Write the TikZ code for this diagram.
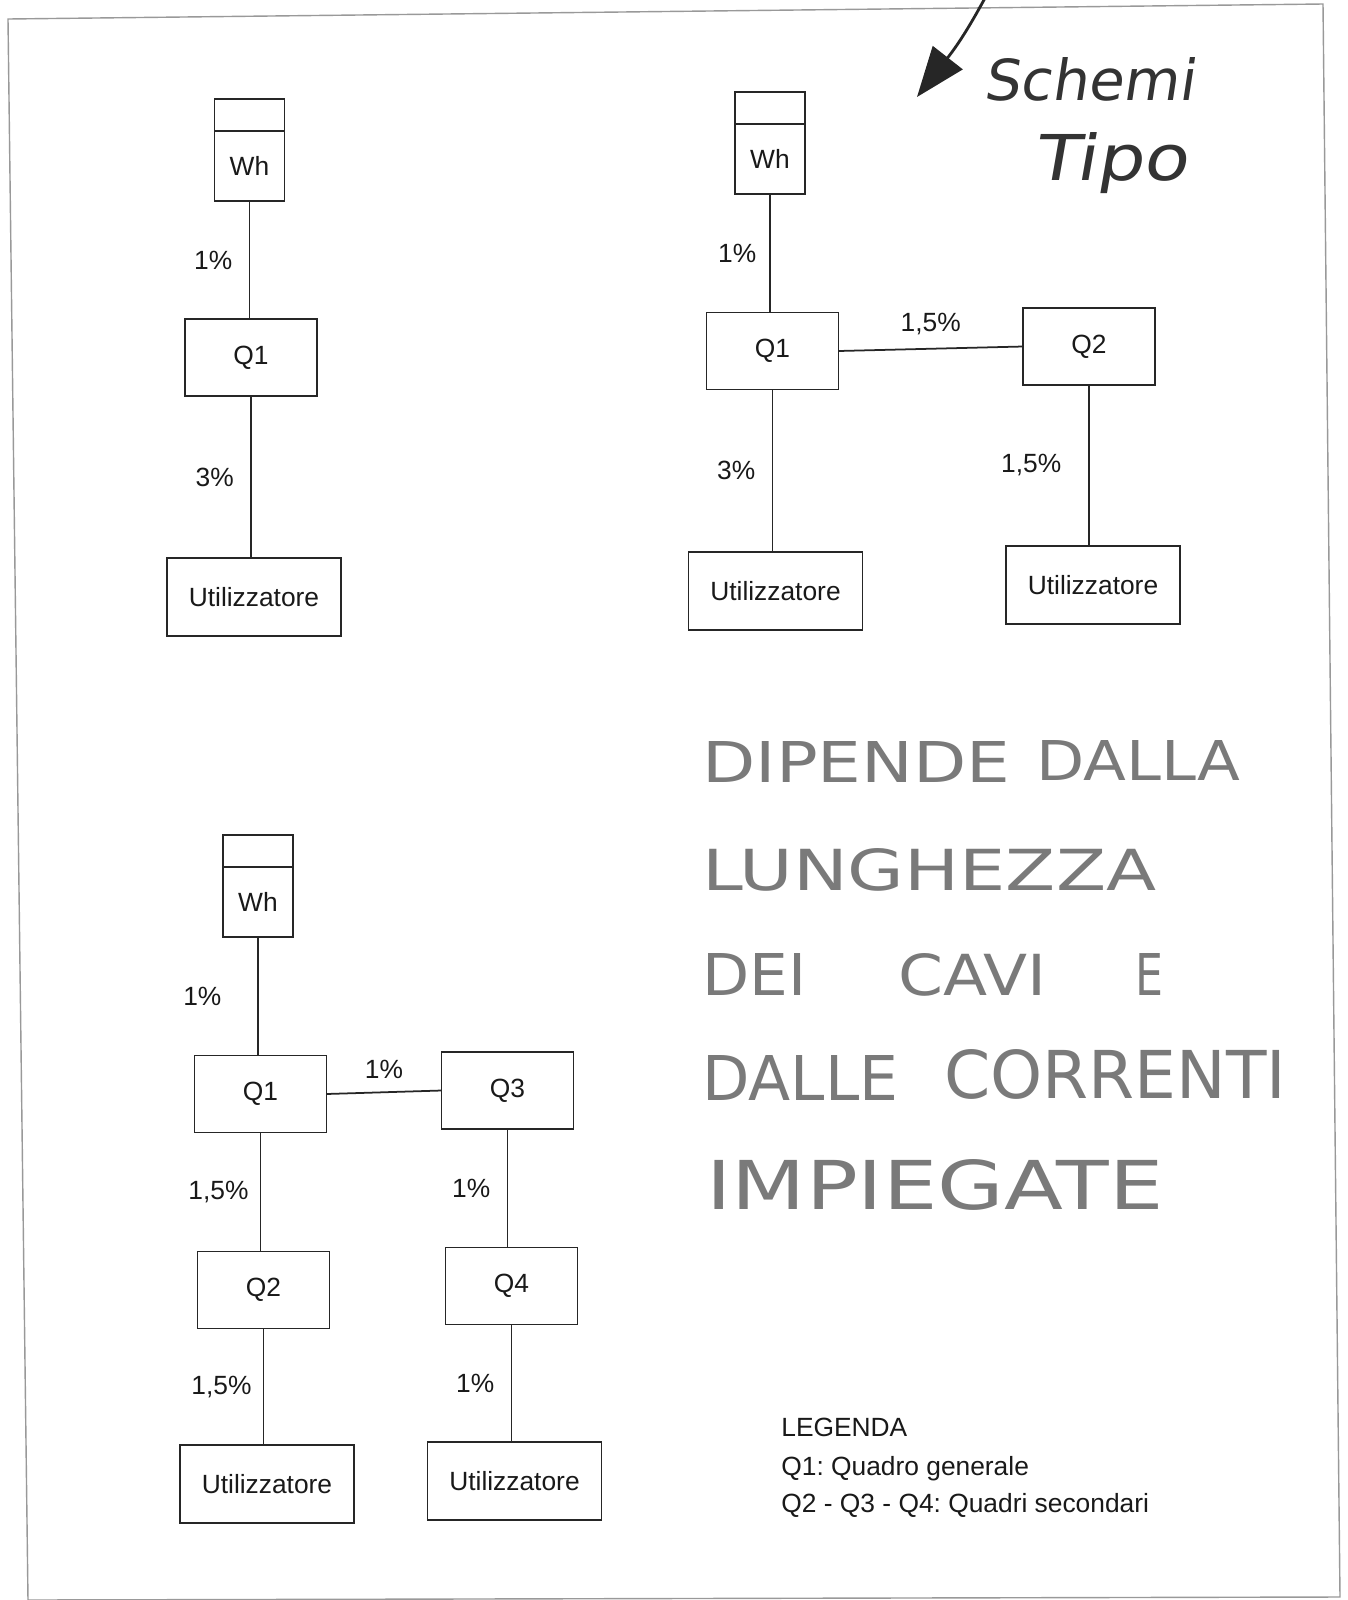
\documentclass[tikz,border=0pt]{standalone}
\usepackage{fontspec}
\usepackage{graphicx}
\setmainfont{Liberation Sans}
\newfontfamily\handfont{DejaVu Sans}
\newfontfamily\notefont{DejaVu Sans}[FakeSlant=0.15]
\usetikzlibrary{arrows.meta,positioning}
\newcommand{\hw}[3]{\resizebox{#1cm}{#2cm}{\handfont #3}}
\newcommand{\sw}[3]{\resizebox{#1cm}{#2cm}{\notefont #3}}
\frenchspacing

\begin{document}
\begin{tikzpicture}[x=0.02cm,y=-0.02cm,
  txt/.style={font=\fontsize{15}{18}\selectfont, text=black!90},
  qbox/.style={txt, draw=black!85, line width=1pt, outer sep=0pt, inner sep=0pt,
    minimum width=2.64cm, minimum height=1.54cm},
  ubox/.style={qbox, minimum width=3.48cm, minimum height=1.56cm},
  whbox/.style={qbox, minimum width=1.4cm, minimum height=1.4cm},
  whcap/.style={qbox, minimum width=1.4cm, minimum height=0.64cm, above=0pt of #1},
  wire/.style={draw=black!85, line width=1pt},
  pct/.style={txt, midway, left=#1},
  pct/.default=6pt,
  hand/.style={anchor=base west, inner sep=0pt, text=black!52},
]
\fill[white] (0,0) rectangle (1348,1600);
\useasboundingbox (0,0) rectangle (1348,1600);
\draw[black!40, line width=0.8pt] (8,19) -- (1323,4) -- (1340,1597) -- (28,1600) -- cycle;

% schema 1
\node[whbox] (wha) at (249.5,166) {Wh};
\node[whcap=wha] (whacap) {};
\node[qbox] (qa1) at (251,357.5) {Q1};
\node[ubox] (uta) at (254,597) {Utilizzatore};
\draw[wire] (wha.south) -- node[pct]{1\%} (wha.south |- qa1.north);
\draw[wire] (qa1.south) -- node[pct]{3\%} (qa1.south |- uta.north);

% schema 2
\node[whbox] (whb) at (770,159) {Wh};
\node[whcap=whb] (whbcap) {};
\node[qbox] (qb1) at (772.5,351) {Q1};
\node[qbox] (qb2) at (1089,346.5) {Q2};
\node[ubox] (utb1) at (775.5,591) {Utilizzatore};
\node[ubox] (utb2) at (1093,585) {Utilizzatore};
\draw[wire] (whb.south) -- node[pct=4pt]{1\%} (whb.south |- qb1.north);
\draw[wire] (qb1.east) -- node[txt, above=4pt]{1,5\%} (qb2.west);
\draw[wire] (qb1.south) -- node[pct]{3\%} (qb1.south |- utb1.north);
\draw[wire] (qb2.south) -- node[pct=12pt]{1,5\%} (qb2.south |- utb2.north);

% schema 3
\node[whbox] (whc) at (258,902) {Wh};
\node[whcap=whc] (whccap) {};
\node[qbox] (qc1) at (260.5,1094) {Q1};
\node[qbox] (qc3) at (507.5,1090.5) {Q3};
\node[qbox] (qc2) at (263.5,1290) {Q2};
\node[qbox] (qc4) at (511.5,1286) {Q4};
\node[ubox] (utc1) at (267,1484) {Utilizzatore};
\node[ubox] (utc2) at (514.5,1481) {Utilizzatore};
\draw[wire] (whc.south) -- node[pct=17pt]{1\%} (whc.south |- qc1.north);
\draw[wire] (qc1.east) -- node[txt, above=4pt]{1\%} (qc3.west);
\draw[wire] (qc1.south) -- node[pct=3pt]{1,5\%} (qc1.south |- qc2.north);
\draw[wire] (qc3.south) -- node[pct]{1\%} (qc3.south |- qc4.north);
\draw[wire] (qc2.south) -- node[pct=3pt]{1,5\%} (qc2.south |- utc1.north);
\draw[wire] (qc4.south) -- node[pct]{1\%} (qc4.south |- utc2.north);

% note a mano
\coordinate (arrtail) at (985,-2);
\coordinate (arrtip) at (917,97);
\draw[black!85, line width=1.6pt, -{Triangle[length=1cm,width=0.75cm]}]
  (arrtail) .. controls (972,22) and (960,42) .. (arrtip);
\node[hand, text=black!80] (schemi) at (983,100) {\sw{4.22}{0.86}{Schemi}};
\node[hand, text=black!80] (tipo) at (1033,180) {\sw{3.08}{0.96}{Tipo}};

\node[hand] (h1a) at (702,782) {\hw{6.16}{0.82}{DIPENDE}};
\node[hand] (h1b) at (1036,780) {\hw{4.08}{0.8}{DALLA}};
\node[hand] (h2) at (702,890) {\hw{9.08}{0.84}{LUNGHEZZA}};
\node[hand] (h3a) at (702,995) {\hw{2.08}{0.84}{DEI}};
\node[hand] (h3b) at (898,995) {\hw{2.96}{0.84}{CAVI}};
\node[hand] (h3c) at (1135,995) {\hw{0.56}{0.84}{E}};
\node[hand] (h4a) at (702,1100) {\hw{3.92}{0.9}{DALLE}};
\node[hand] (h4b) at (944,1098) {\hw{6.84}{0.98}{CORRENTI}};
\node[hand] (h5) at (706,1209) {\hw{9.14}{1.0}{IMPIEGATE}};

% legenda
\node[txt, anchor=base west, inner sep=0pt] (leg1) at (781,1436) {LEGENDA};
\node[txt, anchor=base west, inner sep=0pt] (leg2) at (781,1475) {Q1: Quadro generale};
\node[txt, anchor=base west, inner sep=0pt] (leg3) at (781,1512) {Q2 - Q3 - Q4: Quadri secondari};
\end{tikzpicture}
\end{document}
